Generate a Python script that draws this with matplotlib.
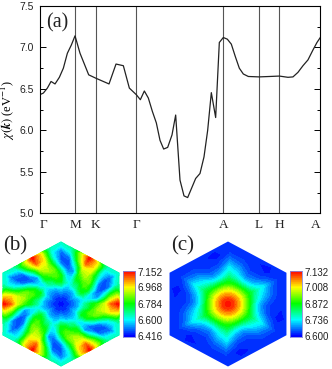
import numpy as np
import matplotlib
matplotlib.use("Agg")
import matplotlib.pyplot as plt
from matplotlib.patches import Polygon
from matplotlib.colors import LinearSegmentedColormap

plt.rcParams['font.family'] = 'Liberation Sans'
plt.rcParams['mathtext.fontset'] = 'stix'

W, H = 332, 369
k_pos = [0, 107, 168, 290, 551, 658, 719, 842]
k_labels = ['Γ', 'M', 'K', 'Γ', 'A', 'L', 'H', 'A']
k_path = [0, 11, 23, 34, 46, 59, 71, 83, 95, 106, 121, 147, 168, 208, 229, 251, 269, 290, 302, 314,
          326, 338, 350, 361, 372, 384, 397, 408, 421, 433, 444, 468, 481, 493, 504, 515, 528, 539,
          551, 563, 575, 587, 599, 611, 626, 658, 690, 719, 745, 760, 775, 790, 805, 820, 832, 842]
chi = [6.43, 6.45, 6.51, 6.59, 6.56, 6.64, 6.75, 6.93, 7.03, 7.14, 6.93, 6.67, 6.63, 6.56, 6.80, 6.78, 6.51, 6.43, 6.37, 6.475,
       6.39, 6.23, 6.09, 5.88, 5.775, 5.795, 5.945, 6.185, 5.40, 5.21, 5.19, 5.42, 5.48, 5.68, 6.0, 6.455, 6.155, 7.06,
       7.12, 7.10, 7.04, 6.89, 6.75, 6.68, 6.65, 6.645, 6.65, 6.655, 6.64, 6.645, 6.70, 6.78, 6.85, 6.97, 7.06, 7.12]

# One repeating sector of each map: rows are radius (fraction of hexagon vertex), columns angle offset
r_b = [0, .12, .25, .35, .45, .55, .65, .75, .85, .95, 1.05]
off_b = [0, 10, 20, 30, 40, 50]
map_b = [[6.42, 6.42, 6.42, 6.42, 6.42, 6.42],
         [6.46, 6.46, 6.46, 6.47, 6.46, 6.46],
         [6.54, 6.54, 6.55, 6.58, 6.56, 6.54],
         [6.66, 6.60, 6.66, 6.76, 6.74, 6.68],
         [6.76, 6.58, 6.60, 6.78, 6.84, 6.78],
         [6.82, 6.52, 6.50, 6.66, 6.86, 6.90],
         [6.94, 6.66, 6.46, 6.50, 6.74, 6.94],
         [7.08, 6.84, 6.50, 6.47, 6.64, 6.98],
         [7.15, 6.90, 6.62, 6.50, 6.62, 6.96],
         [6.92, 6.78, 6.68, 6.62, 6.66, 6.78],
         [6.70, 6.68, 6.68, 6.67, 6.67, 6.68]]
r_c = [0, .08, .16, .24, .32, .42, .5, .6, .7, .8, .9, 1.05]
off_c = [0, 15, 30, 45]
map_c = [[7.132, 7.132, 7.132, 7.132],
         [7.10, 7.10, 7.10, 7.10],
         [7.04, 7.04, 7.04, 7.04],
         [6.96, 6.96, 6.97, 6.96],
         [6.86, 6.87, 6.88, 6.87],
         [6.73, 6.77, 6.81, 6.75],
         [6.67, 6.72, 6.76, 6.69],
         [6.635, 6.675, 6.72, 6.645],
         [6.625, 6.64, 6.67, 6.62],
         [6.62, 6.625, 6.635, 6.605],
         [6.625, 6.625, 6.625, 6.62],
         [6.63, 6.63, 6.63, 6.63]]
b_ticks = ['7.152', '6.968', '6.784', '6.600', '6.416']
c_ticks = ['7.132', '7.008', '6.872', '6.736', '6.600']

jet = LinearSegmentedColormap.from_list('r', ['#0000ff', '#00ffff', '#00ff00', '#ffff00', '#ff0000'], N=256)

fig = plt.figure(figsize=(W/100, H/100), dpi=100)


def box(x0, y0, x1, y1):
    return fig.add_axes([x0/W, 1-y1/H, (x1-x0)/W, (y1-y0)/H])


ax = box(39.7, 6, 320.3, 213.3)
for p in k_pos[1:-1]:
    ax.axvline(p, color='#555555', lw=0.8)
ax.plot(k_path, chi, color='#222222', lw=0.9)
ax.set_xlim(0, 842)
ax.set_ylim(5, 7.5)
ax.set_xticks(k_pos)
ax.set_xticklabels(k_labels, family='Liberation Serif', fontsize=9.5, color='#222222')
ax.get_xticklabels()[0].set_ha('left')
ax.get_xticklabels()[-1].set_ha('right')
ax.set_yticks(np.arange(5, 7.6, .5))
ax.set_yticks(np.arange(5.25, 7.5, .5), minor=True)
ax.tick_params(axis='x', length=0, pad=4)
ax.tick_params(axis='y', which='major', direction='in', length=4, width=.7, right=True, labelsize=7.5, pad=4,
               labelcolor='#222222')
ax.tick_params(axis='y', which='minor', direction='in', length=2, width=.7, right=True)
ax.set_ylabel(r'$\chi(\mathbfit{k})$ (eV$^{-1}$)', family='Liberation Serif', fontsize=9)
ax.yaxis.set_label_coords(-0.082, 0.5)
for s in ax.spines.values():
    s.set_linewidth(.8)
fig.text(46/W, 1-23/H, '(a)', family='Liberation Serif', fontsize=14.5, va='center', color='#222222')


def hexmap(cx, cy, R, sx, radii, offs, table, vmin, vmax, base, label, lx, bx0, bx1, ticks, tfs):
    a = box(cx-R*sx-2, cy-R-2, cx+R*sx+2, cy+R+2)
    a.set_xlim(cx-R*sx-2, cx+R*sx+2)
    a.set_ylim(cy+R+2, cy-R-2)
    a.axis('off')
    tile = np.hstack([np.array(table, float)]*6)
    tile = np.hstack([tile, tile[:, :1]])
    ang = np.array([base + o + 60*s for s in range(6) for o in offs] + [base + 360])
    rr, tt = np.meshgrid(np.array(radii)*R, np.radians(ang), indexing='ij')
    X = cx + sx*rr*np.cos(tt)
    Y = cy - rr*np.sin(tt)
    levels = np.linspace(vmin, vmax, 33)
    cf = a.contourf(X, Y, tile, levels=levels, cmap=jet, extend='both')
    hexv = [(cx + sx*R*np.cos(np.radians(90+60*i)), cy - R*np.sin(np.radians(90+60*i))) for i in range(6)]
    clip = Polygon(hexv, transform=a.transData, fc='none', ec='none')
    a.add_patch(clip)
    cf.set_clip_path(clip)
    fig.text(lx/W, 1-(cy-58)/H, label, family='Liberation Serif', fontsize=15, va='center', color='#222222')
    c = box(bx0, 270.7, bx1, 337)
    c.imshow(np.linspace(1, 0, 33)[:, None], cmap=jet, aspect='auto', extent=[0, 1, 0, 1])
    c.set_xticks([])
    c.yaxis.tick_right()
    c.set_yticks([0.98, .75, .5, .25, .02])
    c.set_yticklabels(ticks, fontsize=tfs, color='#222222')
    c.tick_params(axis='y', length=0, pad=2)
    for s in c.spines.values():
        s.set_color('#8888dd')
        s.set_linewidth(.6)


hexmap(61, 304, 62.5, 1.08, r_b, off_b, map_b, 6.416, 7.152, 0, '(b)', 3, 122.5, 135, b_ticks, 7.2)
hexmap(228, 304, 62.5, 1.08, r_c, off_c, map_c, 6.600, 7.132, -2, '(c)', 171, 290, 302, c_ticks, 7)

fig.savefig('out.png', dpi=100)
